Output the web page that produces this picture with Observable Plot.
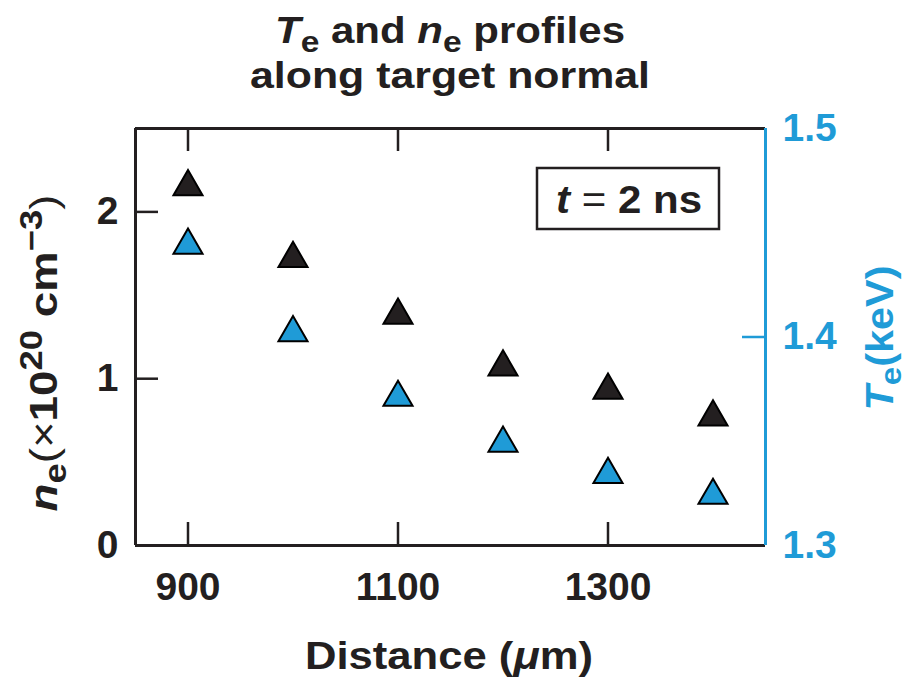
<!DOCTYPE html>
<html><head><meta charset="utf-8">
<script src="https://cdn.jsdelivr.net/npm/d3@7"></script>
<script src="https://cdn.jsdelivr.net/npm/@observablehq/plot@0.6"></script>
<style>
body{margin:0;background:#fff;}
#chart{position:relative;width:911px;height:680px;}
</style></head><body><div id="chart"></div>
<script>
// ---- data ----
const distance = [900, 1000, 1100, 1200, 1300, 1400];
const neValues = [2.15, 1.72, 1.38, 1.07, 0.93, 0.77];      // ×10^20 cm^-3
const teValues = [1.444, 1.402, 1.371, 1.349, 1.334, 1.324]; // keV
const xTicks = [900, 1100, 1300];
const neTicks = [0, 1, 2];
const teTicks = [1.3, 1.4, 1.5];
const xDomain = [850, 1450];
const neDomain = [0, 2.5];
const teDomain = [1.3, 1.5];

const BLACK = "#231f20";
const BLUE = "#1f9bd7";
const FONT = "'Liberation Sans', Arial, Helvetica, sans-serif";
const ML = 135, MR = 146, MT = 128, MB = 135, W = 911, H = 680;
const innerW = W - ML - MR, innerH = H - MT - MB;
const TICK = 23;

const teToNe = d3.scaleLinear().domain(teDomain).range(neDomain);
const neData = distance.map((d, i) => ({d, v: neValues[i]}));
const teData = distance.map((d, i) => ({d, v: teValues[i]}));

const chart = Plot.plot({
  width: W, height: H,
  marginLeft: ML, marginRight: MR, marginTop: MT, marginBottom: MB,
  style: {fontFamily: FONT, fontWeight: "bold", fontSize: "39px", background: "white", color: BLACK},
  x: {domain: xDomain},
  y: {domain: neDomain},
  marks: [
    Plot.axisX({ticks: xTicks, tickFormat: d => String(d), tickSize: 0, tickPadding: 27, label: null, fontSize: 39}),
    Plot.axisY({anchor: "left", ticks: neTicks, tickFormat: d => String(d), tickSize: 0, tickPadding: 17, label: null, fontSize: 39}),
    Plot.axisY({anchor: "right", ticks: teTicks.map(teToNe), tickFormat: d => teToNe.invert(d).toFixed(1),
      tickSize: 0, tickPadding: 17, label: null, fontSize: 39, color: BLUE}),
    // inward ticks
    Plot.ruleX(xTicks, {stroke: BLACK, strokeWidth: 2.5, insetTop: innerH - TICK}),
    Plot.ruleX(xTicks, {stroke: BLACK, strokeWidth: 2.5, insetBottom: innerH - TICK}),
    Plot.ruleY(neTicks.filter(t => t > 0), {stroke: BLACK, strokeWidth: 2.5, insetRight: innerW - TICK}),
    Plot.ruleY([teToNe(1.4)], {stroke: BLUE, strokeWidth: 2.5, insetLeft: innerW - TICK}),
    // frame
    Plot.ruleY([neDomain[0], neDomain[1]], {stroke: BLACK, strokeWidth: 3}),
    Plot.ruleX([xDomain[0]], {stroke: BLACK, strokeWidth: 3}),
    Plot.ruleX([xDomain[1]], {stroke: BLUE, strokeWidth: 3}),
    // data
    Plot.dot(neData, {x: "d", y: "v", symbol: "triangle", r: 10.8, fill: BLACK, stroke: "black", strokeWidth: 2}),
    Plot.dot(teData, {x: "d", y: d => teToNe(d.v), symbol: "triangle", r: 10.8, fill: BLUE, stroke: "black", strokeWidth: 2})
  ]
});
document.getElementById("chart").appendChild(chart);

const svg = d3.select(chart);
function addText(x, y, parts, {size = 36, anchor = "middle", fill = BLACK, rotate = 0, length = null, subShift = 0.24, subSize = 0.72, supSize = 0.72} = {}) {
  const g = svg.append("g").attr("transform", `translate(${x},${y}) rotate(${rotate})`);
  const t = g.append("text")
    .attr("font-family", FONT).attr("font-weight", "bold").attr("font-size", size)
    .attr("fill", fill).attr("text-anchor", "start");
  let shift = 0;
  for (const p of parts) {
    const s = t.append("tspan").text(p.t);
    const target = p.sub ? size * subShift : p.sup ? -size * 0.38 : 0;
    if (target !== shift) { s.attr("dy", target - shift); shift = target; }
    if (p.sub) s.attr("font-size", size * subSize);
    if (p.sup) s.attr("font-size", size * supSize);
    if (p.i) s.attr("font-style", "italic");
    if (p.n) s.attr("font-weight", "normal");
  }
  const natural = t.node().getComputedTextLength();
  const len = length || natural;
  if (length) t.attr("textLength", length).attr("lengthAdjust", "spacingAndGlyphs");
  const x0 = anchor === "middle" ? -len / 2 : anchor === "end" ? -len : 0;
  t.attr("x", x0);
  return t;
}

// title
addText(450, 43, [{t: "T", i: 1}, {t: "e", sub: 1}, {t: " and "}, {t: "n", i: 1}, {t: "e", sub: 1}, {t: " profiles"}], {size: 36, length: 350, subSize: 0.8});
addText(450, 88, [{t: "along target normal"}], {size: 36, length: 400});

// x label
addText(449, 669, [{t: "Distance ("}, {t: "\u03bc", i: 1}, {t: "m)"}], {size: 39, length: 288});

// left y label
addText(57, 353, [{t: "n", i: 1}, {t: "e", sub: 1}, {t: "(", n: 1}, {t: "\u00d7", n: 1}, {t: "10"}, {t: "20", sup: 1}, {t: " cm"}, {t: "\u22123", sup: 1}, {t: ")", n: 1}],
  {size: 39, rotate: -90, length: 317, subSize: 0.8, supSize: 0.8});

// right y label
addText(893, 338, [{t: "T", i: 1}, {t: "e", sub: 1}, {t: "(keV)"}], {size: 38, rotate: -90, fill: BLUE, length: 145, subShift: 0.2, subSize: 0.8});

// annotation box
svg.append("rect").attr("x", 537).attr("y", 168).attr("width", 182).attr("height", 61)
  .attr("fill", "white").attr("stroke", BLACK).attr("stroke-width", 2.5);
addText(629, 213, [{t: "t", i: 1}, {t: " = ", n: 1}, {t: "2 ns"}], {size: 38, length: 146});
</script>
</body></html>
